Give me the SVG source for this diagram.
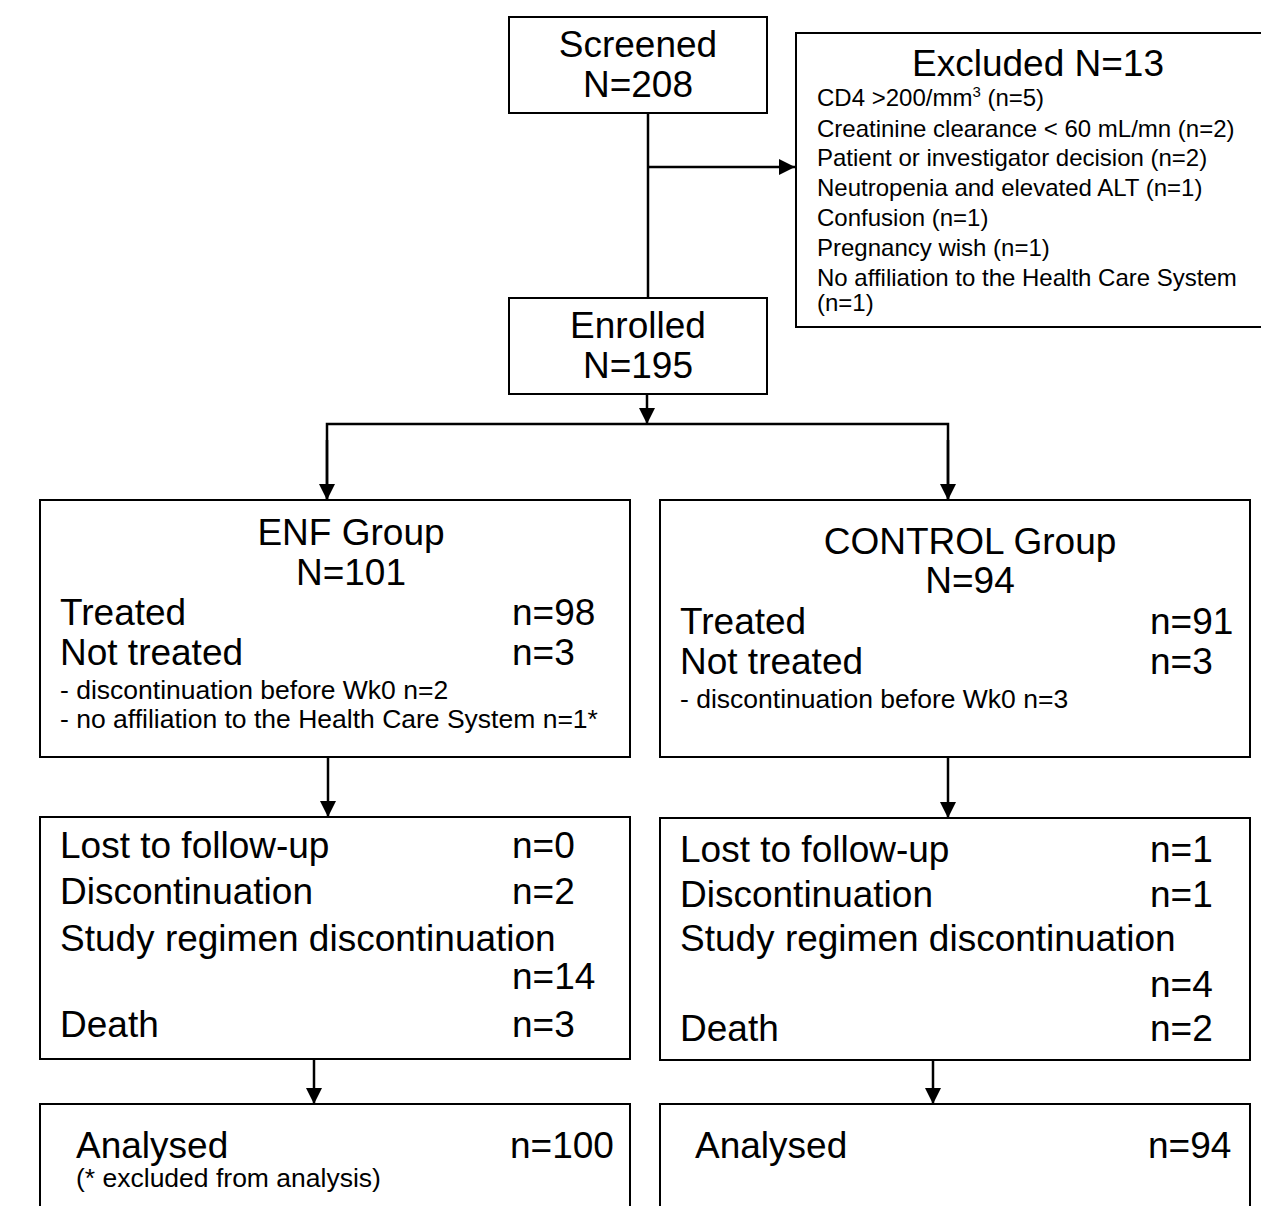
<svg xmlns="http://www.w3.org/2000/svg" width="1261" height="1206" viewBox="0 0 1261 1206">
<style>
  text { font-family: "Liberation Sans", Arial, sans-serif; fill: #000; }
  .big { font-size: 37px; }
  .sm { font-size: 26.5px; }
  .ex { font-size: 24px; }
  .mid { text-anchor: middle; }
  .box { fill: #fff; stroke: #000; stroke-width: 2; }
  .conn { fill: none; stroke: #000; stroke-width: 2.5; }
</style>
<defs>
  <marker id="arr" markerUnits="userSpaceOnUse" markerWidth="16" markerHeight="18" viewBox="0 0 16 18" refX="16" refY="9" orient="auto">
    <path d="M0,1 L16,9 L0,17 Z" fill="#000"/>
  </marker>
</defs>
<rect width="1261" height="1206" fill="#fff"/>

<g id="connectors">
  <line class="conn" x1="648" y1="113" x2="648" y2="298"/>
  <line class="conn" x1="648" y1="167" x2="795" y2="167" marker-end="url(#arr)"/>
  <line class="conn" x1="647" y1="394" x2="647" y2="424" marker-end="url(#arr)"/>
  <polyline class="conn" points="327,500 327,424 948,424 948,500"/>
  <line class="conn" x1="327" y1="440" x2="327" y2="500" marker-end="url(#arr)"/>
  <line class="conn" x1="948" y1="440" x2="948" y2="500" marker-end="url(#arr)"/>
  <line class="conn" x1="328" y1="757" x2="328" y2="817" marker-end="url(#arr)"/>
  <line class="conn" x1="948" y1="757" x2="948" y2="818" marker-end="url(#arr)"/>
  <line class="conn" x1="314" y1="1059" x2="314" y2="1104" marker-end="url(#arr)"/>
  <line class="conn" x1="933" y1="1060" x2="933" y2="1104" marker-end="url(#arr)"/>
</g>

<g id="screened">
  <rect class="box" x="509" y="17" width="258" height="96"/>
  <text class="big mid" x="638" y="57">Screened</text>
  <text class="big mid" x="638" y="97">N=208</text>
</g>

<g id="excluded">
  <rect class="box" x="796" y="33" width="480" height="294"/>
  <text class="big mid" x="1038" y="76">Excluded N=13</text>
  <text class="ex" x="817" y="106">CD4 &gt;200/mm<tspan font-size="15" dy="-9">3</tspan><tspan dy="9"> (n=5)</tspan></text>
  <text class="ex" x="817" y="137">Creatinine clearance &lt; 60 mL/mn (n=2)</text>
  <text class="ex" x="817" y="166">Patient or investigator decision (n=2)</text>
  <text class="ex" x="817" y="196">Neutropenia and elevated ALT (n=1)</text>
  <text class="ex" x="817" y="226">Confusion (n=1)</text>
  <text class="ex" x="817" y="256">Pregnancy wish (n=1)</text>
  <text class="ex" x="817" y="286">No affiliation to the Health Care System</text>
  <text class="ex" x="817" y="311">(n=1)</text>
</g>

<g id="enrolled">
  <rect class="box" x="509" y="298" width="258" height="96"/>
  <text class="big mid" x="638" y="338">Enrolled</text>
  <text class="big mid" x="638" y="378">N=195</text>
</g>

<g id="enf-group">
  <rect class="box" x="40" y="500" width="590" height="257"/>
  <text class="big mid" x="351" y="545">ENF Group</text>
  <text class="big mid" x="351" y="585">N=101</text>
  <text class="big" x="60" y="625">Treated</text>
  <text class="big" x="512" y="625">n=98</text>
  <text class="big" x="60" y="665">Not treated</text>
  <text class="big" x="512" y="665">n=3</text>
  <text class="sm" x="60" y="699">- discontinuation before Wk0 n=2</text>
  <text class="sm" x="60" y="728">- no affiliation to the Health Care System n=1*</text>
</g>

<g id="control-group">
  <rect class="box" x="660" y="500" width="590" height="257"/>
  <text class="big mid" x="970" y="554">CONTROL Group</text>
  <text class="big mid" x="970" y="593">N=94</text>
  <text class="big" x="680" y="634">Treated</text>
  <text class="big" x="1150" y="634">n=91</text>
  <text class="big" x="680" y="674">Not treated</text>
  <text class="big" x="1150" y="674">n=3</text>
  <text class="sm" x="680" y="708">- discontinuation before Wk0 n=3</text>
</g>

<g id="enf-followup">
  <rect class="box" x="40" y="817" width="590" height="242"/>
  <text class="big" x="60" y="858">Lost to follow-up</text>
  <text class="big" x="512" y="858">n=0</text>
  <text class="big" x="60" y="904">Discontinuation</text>
  <text class="big" x="512" y="904">n=2</text>
  <text class="big" x="60" y="951">Study regimen discontinuation</text>
  <text class="big" x="512" y="989">n=14</text>
  <text class="big" x="60" y="1037">Death</text>
  <text class="big" x="512" y="1037">n=3</text>
</g>

<g id="control-followup">
  <rect class="box" x="660" y="818" width="590" height="242"/>
  <text class="big" x="680" y="862">Lost to follow-up</text>
  <text class="big" x="1150" y="862">n=1</text>
  <text class="big" x="680" y="907">Discontinuation</text>
  <text class="big" x="1150" y="907">n=1</text>
  <text class="big" x="680" y="951">Study regimen discontinuation</text>
  <text class="big" x="1150" y="997">n=4</text>
  <text class="big" x="680" y="1041">Death</text>
  <text class="big" x="1150" y="1041">n=2</text>
</g>

<g id="enf-analysed">
  <rect class="box" x="40" y="1104" width="590" height="130"/>
  <text class="big" x="76" y="1158">Analysed</text>
  <text class="big" x="510" y="1158">n=100</text>
  <text class="sm" x="76" y="1187">(* excluded from analysis)</text>
</g>

<g id="control-analysed">
  <rect class="box" x="660" y="1104" width="590" height="130"/>
  <text class="big" x="695" y="1158">Analysed</text>
  <text class="big" x="1148" y="1158">n=94</text>
</g>
</svg>
